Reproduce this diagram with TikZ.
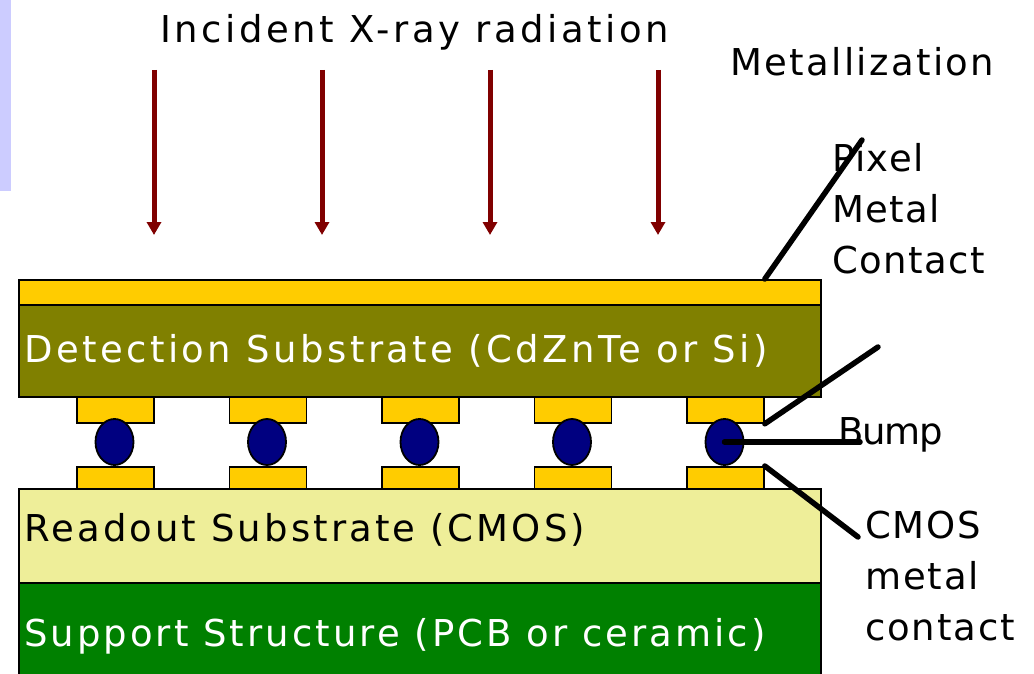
\documentclass[tikz,border=0pt]{standalone}
\usepackage{fontspec}
\setmainfont{DejaVu Sans}[LetterSpace=7.5]
\usetikzlibrary{arrows.meta,shapes.geometric,calc}
\definecolor{lav}{HTML}{CCCCFF}
\definecolor{metalc}{HTML}{FFCC00}
\definecolor{detc}{HTML}{808000}
\definecolor{readc}{HTML}{EEEE99}
\definecolor{suppc}{HTML}{008000}
\definecolor{bumpc}{HTML}{000080}
\definecolor{rayc}{HTML}{800000}
\begin{document}
\begin{tikzpicture}[x=1pt,y=-1pt,
  layer/.style={draw=black,line width=1.8pt,anchor=north west,inner sep=0pt,minimum width=802pt},
  pad/.style={draw=black,line width=1.8pt,fill=metalc,anchor=north west,inner sep=0pt,minimum width=77pt},
  bumpball/.style={ellipse,draw=black,line width=1.8pt,fill=bumpc,inner sep=0pt,minimum width=38pt,minimum height=46pt},
  ray/.style={rayc,line width=5pt,-{Triangle[width=14pt,length=13pt]}},
  conn/.style={black,line width=5.5pt,line cap=round},
  lbl/.style={inner sep=0pt,font=\fontsize{37}{51}\selectfont\addfontfeature{LetterSpace=#1}},
  lbl/.default=7.5,
  wlbl/.style={lbl=#1,text=white},
  wlbl/.default=7.5]
\useasboundingbox (0,0) rectangle (1034,674);
\fill[lav] (0,0) rectangle (11,191);
% title and arrows
\node[lbl=9.6,anchor=base west] (title) at (160,43) {Incident X-ray radiation};
\foreach \i/\x in {1/154,2/322,3/490,4/658}{
  \coordinate (rs\i) at (\x,70);
  \coordinate (re\i) at (\x,235);
  \draw[ray] (rs\i) -- (re\i);
}
% layers
\node[layer,fill=suppc,minimum height=100pt] (supp) at (18,582) {};
\node[layer,fill=readc,minimum height=94pt] (read) at (18,488) {};
\node[layer,fill=detc,minimum height=92pt] (det) at (18,304) {};
\node[layer,fill=metalc,minimum height=25pt] (metal) at (18,279) {};
\node[wlbl=9.3,anchor=base west] (dett) at (24,362) {Detection Substrate (CdZnTe or Si)};
\node[lbl=8.4,anchor=base west] (readt) at (24,541) {Readout Substrate (CMOS)};
\node[wlbl=8.2,anchor=base west] (suppt) at (24,646) {Support Structure (PCB or ceramic)};
% pads and bumps
\foreach \i/\x in {1/76,2/228.5,3/381,4/533.5,5/686}{
  \node[pad,minimum height=26pt] (pt\i) at (\x,396) {};
  \node[pad,minimum height=22pt] (pb\i) at (\x,466) {};
  \node[bumpball] (b\i) at (\x+38.5,442) {};
}
% labels
\node[lbl=6.4,anchor=base west] (metl) at (730,76) {Metallization};
\node[lbl=4,anchor=north west,align=left] (pixl) at (832,143) {Pixel\\Metal\\Contact};
\node[lbl=-3,anchor=base west] (bumpl) at (838,444) {Bump};
\node[lbl=5,anchor=north west,align=left] (cmosl) at (865,511) {CMOS\\metal\\contact};
% connectors
\coordinate (m1) at (metal.north west -| pt5.east);
\coordinate (e1) at (862,140);
\coordinate (e2) at (878,347);
\coordinate (e3) at (860,442);
\coordinate (e4) at (858,537);
\draw[conn] (m1) -- (e1);
\draw[conn] (pt5.south east) -- (e2);
\draw[conn] (b5.center) -- (e3);
\draw[conn] (pb5.north east) -- (e4);
\end{tikzpicture}
\end{document}
